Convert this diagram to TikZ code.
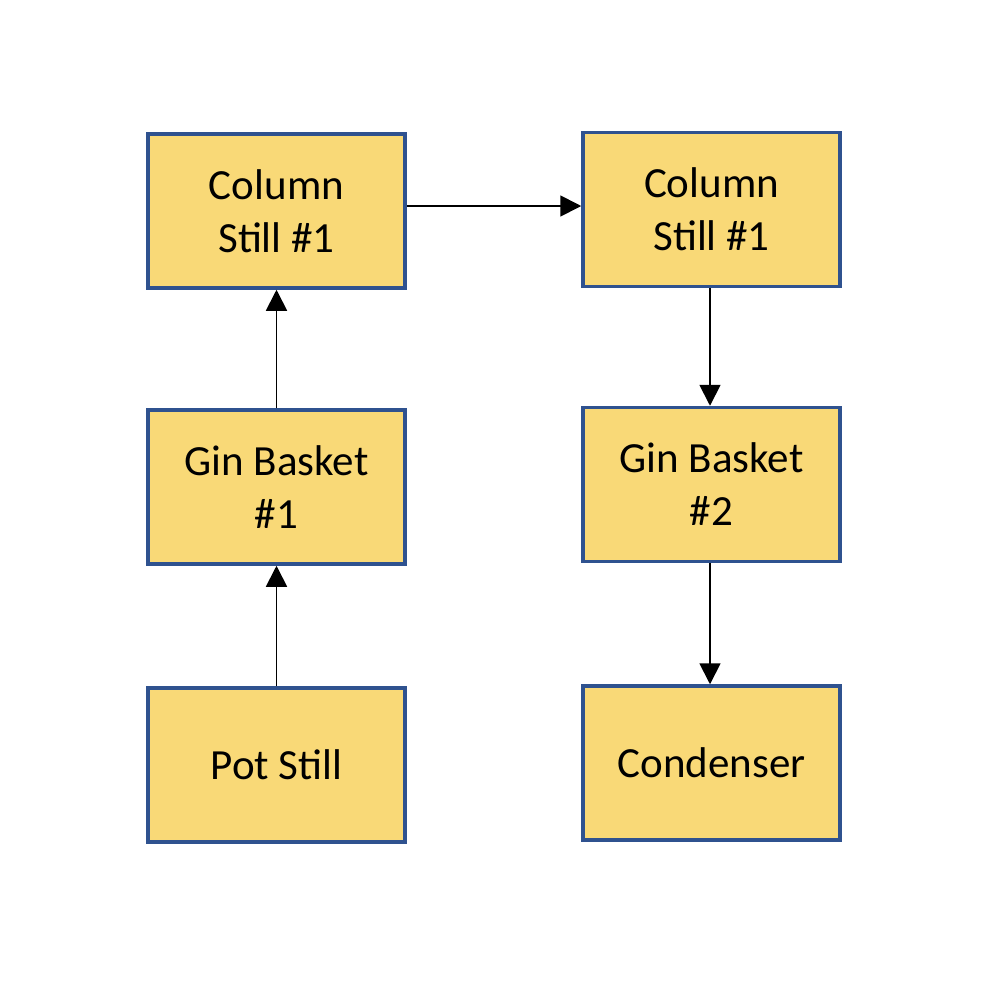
\documentclass[tikz,border=0pt]{standalone}
\usepackage{fontspec}
\setmainfont{Carlito}
\usetikzlibrary{arrows.meta}
\definecolor{boxfill}{HTML}{F9D977}
\definecolor{boxedge}{HTML}{2F528F}
\begin{document}
\begin{tikzpicture}[x=1pt,y=-1pt,
  stagebox/.style={draw=boxedge, fill=boxfill, line width=3.5pt, rectangle,
    minimum width=257pt, minimum height=154pt, inner sep=0pt, align=center,
    font=\fontsize{43}{53}\selectfont},
  flow/.style={line width=1.8pt, -{Triangle[length=21pt,width=21pt]}}]
\fill[white] (0,0) rectangle (986,994);
\useasboundingbox (0,0) rectangle (986,994);
\node[stagebox] (L1) at (276.5,211) {Column\\Still \#1};
\node[stagebox] (L2) at (276.5,487) {Gin Basket\\\#1};
\node[stagebox] (L3) at (276.5,765) {Pot Still};
\node[stagebox] (R1) at (711.5,209.5) {Column\\Still \#1};
\node[stagebox] (R2) at (711.5,484.5) {Gin Basket\\\#2};
\node[stagebox] (R3) at (711.5,763) {Condenser};
\draw[flow] (L3.north) -- (L2.south);
\draw[flow] (L2.north) -- (L1.south);
\draw[flow] ([yshift=5pt]L1.east) -- ([yshift=5pt]L1.east -| R1.west);
\draw[flow] ([xshift=-1.5pt]R1.south) -- ([xshift=-1.5pt]R2.north);
\draw[flow] ([xshift=-1.5pt]R2.south) -- ([xshift=-1.5pt]R3.north);
\end{tikzpicture}
\end{document}
